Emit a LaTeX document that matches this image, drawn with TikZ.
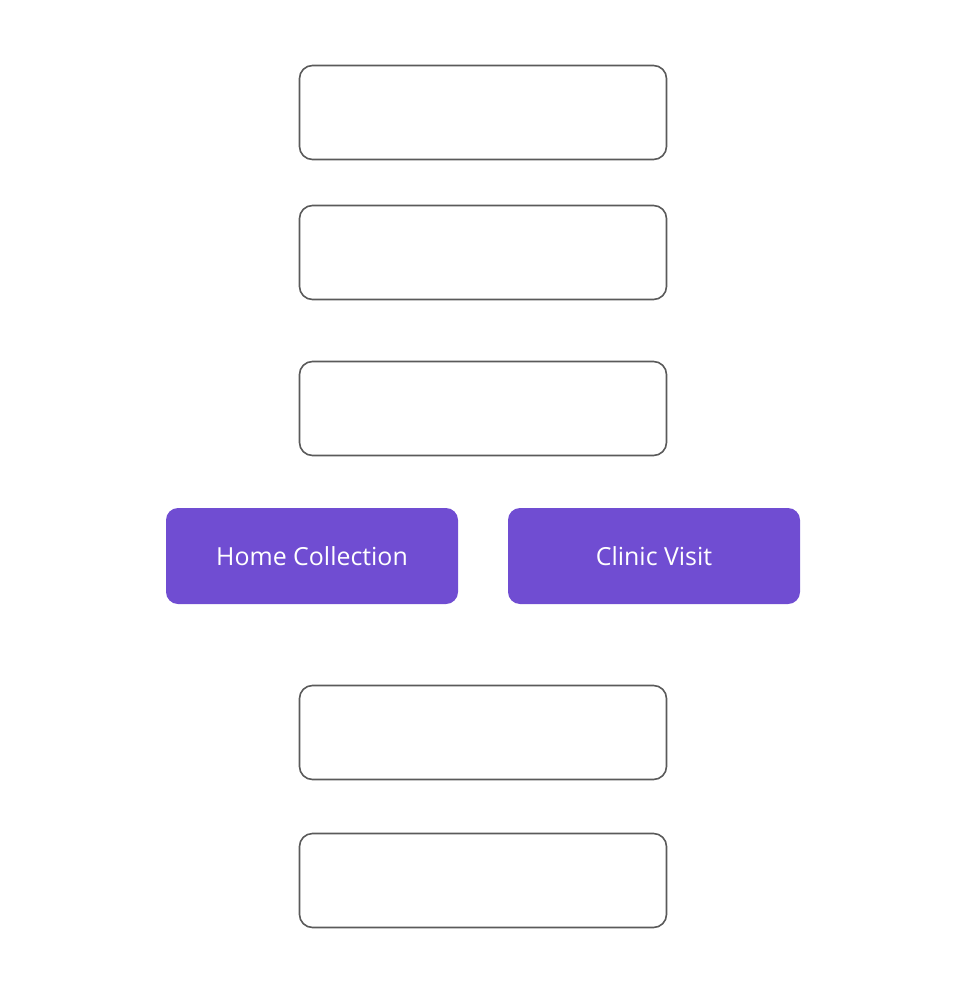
\documentclass[tikz,border=0pt]{standalone}
\usepackage{fontspec}
\setmainfont{Open Sans}
\definecolor{boxgray}{HTML}{5A5A5A}
\definecolor{purp}{HTML}{704DD2}
\begin{document}
\begin{tikzpicture}[x=1pt,y=-1pt,
  emptybox/.style={draw=boxgray, line width=1.6pt, fill=white, rounded corners=13pt, minimum width=367pt, minimum height=94pt, inner sep=0pt},
  choicebox/.style={fill=purp, rounded corners=12pt, minimum width=292pt, minimum height=96pt, inner sep=0pt, text=white, font=\fontsize{24.9}{28}\selectfont}]
\useasboundingbox (0,0) rectangle (964,992);
\node[emptybox] (b1) at (483,112.5) {};
\node[emptybox] (b2) at (483,252.5) {};
\node[emptybox] (b3) at (483,408.5) {};
\node[choicebox] (home) at (312,556) {Home Collection};
\node[choicebox] (clinic) at (654,556) {Clinic Visit};
\node[emptybox] (b4) at (483,732.5) {};
\node[emptybox] (b5) at (483,880.5) {};
\end{tikzpicture}
\end{document}
